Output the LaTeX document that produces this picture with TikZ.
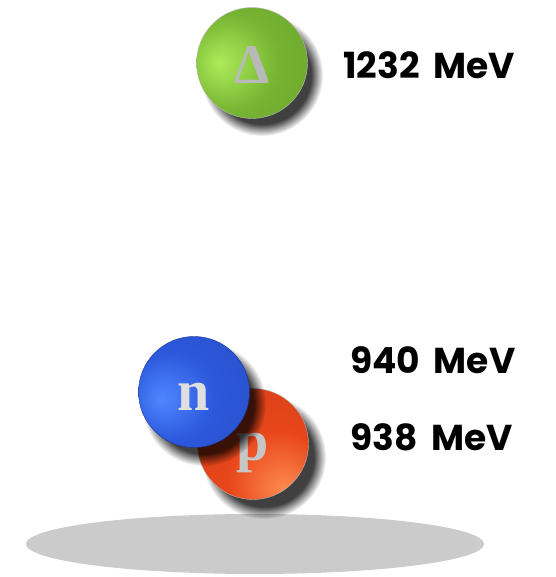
\documentclass[tikz,border=0pt]{standalone}
\usepackage{fontspec}
\setmainfont{Liberation Serif}
\newfontfamily\massfont[WordSpace=1.8]{Poppins}
\usetikzlibrary{fadings}

\definecolor{floorgray}{HTML}{CBCBCB}
\definecolor{deltalight}{HTML}{ADEB5A}
\definecolor{deltamid}{HTML}{76B432}
\definecolor{deltadark}{HTML}{4C7C1E}
\definecolor{nlight}{HTML}{4F86FF}
\definecolor{nmid}{HTML}{2C58DC}
\definecolor{ndark}{HTML}{1A3592}
\definecolor{plight}{HTML}{FF8E52}
\definecolor{pmid}{HTML}{E8461A}
\definecolor{pdark}{HTML}{B02C0A}

% ball shadings, highlight placed off centre
\pgfdeclareradialshading{deltaball}{\pgfpoint{-15bp}{0bp}}{color(0bp)=(deltalight); color(22bp)=(deltamid); color(58bp)=(deltamid!85!black); color(72bp)=(deltadark)}
\pgfdeclareradialshading{nball}{\pgfpoint{-15bp}{-3bp}}{color(0bp)=(nlight); color(20bp)=(nmid); color(55bp)=(nmid!85!black); color(70bp)=(ndark)}
\pgfdeclareradialshading{pball}{\pgfpoint{15bp}{-22bp}}{color(0bp)=(plight); color(22bp)=(pmid); color(60bp)=(pmid!88!black); color(80bp)=(pdark)}

\begin{document}
\begin{tikzpicture}[x=1pt,y=1pt]
	 \tikzstyle{ball}=[circle,minimum size=111pt,inner sep=0pt,shade,text depth=0pt,font=\fontsize{58}{58}\selectfont\bfseries]
	 \tikzstyle{ball shadow}=[fill=black,opacity=0.75,path fading=circle with fuzzy edge 20 percent]
	 \tikzstyle{mass}=[anchor=west,inner sep=0pt,font=\massfont\fontsize{36}{36}\selectfont\bfseries]
	 \useasboundingbox (0,0) rectangle (555,577);
	 % floor
	 \fill[floorgray] (255,33) ellipse [x radius=229, y radius=30];
	 % proton
	 \fill[ball shadow] (264,120) circle (62);
	 \node[ball,shading=pball,draw=gray!60,thin,text=gray!45,text height=34pt] (proton) at (253,133) {p};
	 % neutron
	 \fill[ball shadow] (204,173) circle (62);
	 \node[ball,shading=nball,draw=ndark,thin,text=gray!25,text height=37pt] (neutron) at (194,185) {n};
	 % delta
	 \fill[ball shadow] (262,502) circle (61);
	 \node[ball,shading=deltaball,draw=gray!55,thin,text=gray!55,text height=41pt,font=\fontsize{56}{56}\selectfont\bfseries] (delta) at (252,514) {Δ};
	 % masses
	 \node[mass] (mdelta) at (343,512) {1232 MeV};
	 \node[mass] (mn) at (350,217) {940 MeV};
	 \node[mass] (mp) at (350,140) {938 MeV};
\end{tikzpicture}
\end{document}
